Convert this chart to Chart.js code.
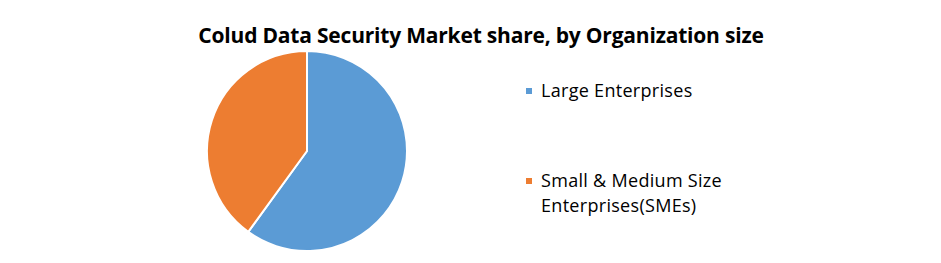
<!DOCTYPE html>
<html>
<head>
<meta charset="utf-8">
<script src="https://cdn.jsdelivr.net/npm/chart.js@4"></script>
<style>
  body { margin: 0; background: #fff; }
  #wrap { position: relative; width: 941px; height: 263px; overflow: hidden; font-family: "Open Sans", "Liberation Sans", sans-serif; }
  #title { position: absolute; left: 0; top: 21px; width: 962px; text-align: center; font-weight: bold; font-size: 21px; color: #000; letter-spacing: -0.2px; }
  #pieBox { position: absolute; left: 206px; top: 50px; width: 202px; height: 202px; }
  .leg { position: absolute; left: 526px; font-size: 18px; color: #000; line-height: 25px; letter-spacing: 0.3px; }
  .leg span.sw { position: absolute; left: 0; top: 10px; width: 6px; height: 6px; }
  .leg div.txt { margin-left: 15px; }
</style>
</head>
<body>
<div id="wrap">
  <div id="title">Colud Data Security Market share, by Organization size</div>
  <div id="pieBox"><canvas id="pie" width="202" height="202"></canvas></div>
  <div id="legend"></div>
</div>
<script>
'use strict';

const categories = ['Large Enterprises', 'Small & Medium Size Enterprises(SMEs)'];
const legendLines = [['Large Enterprises'], ['Small & Medium Size', 'Enterprises(SMEs)']];
const shares = [60, 40];
const colors = ['#5B9BD5', '#ED7D31'];
const legendTops = [78, 168];

// legend built from the same arrays
const legendEl = document.querySelector('#legend');
categories.forEach((c, i) => {
  legendEl.innerHTML += `
    <div class="leg" style="top:${legendTops[i]}px">
      <span class="sw" style="background:${colors[i]}"></span>
      <div class="txt">${legendLines[i].join('<br>')}</div>
    </div>`;
});

const ctx = document.querySelector('#pie').getContext('2d');
const chart = new Chart(ctx, {
  type: 'pie',
  data: {
    labels: categories,
    datasets: [{
      data: shares,
      backgroundColor: colors,
      borderColor: '#fff',
      borderWidth: 2
    }]
  },
  options: {
    responsive: false,
    animation: false,
    layout: { padding: 0 },
    plugins: {
      legend: { display: false },
      tooltip: { enabled: false },
      title: { display: false }
    }
  }
});
</script>
</body>
</html>
